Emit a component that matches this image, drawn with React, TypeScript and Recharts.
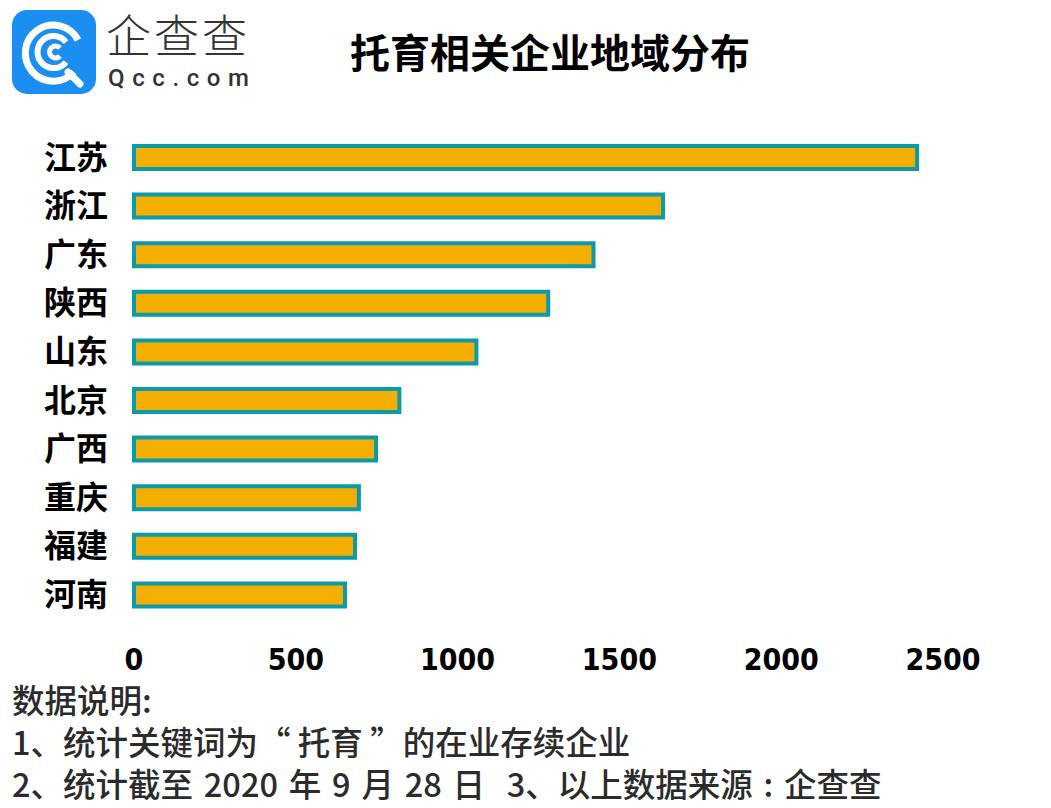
import { BarChart, Bar, XAxis, YAxis } from "recharts";

const provinces = ["江苏", "浙江", "广东", "陕西", "山东", "北京", "广西", "重庆", "福建", "河南"];
const counts = [2420, 1635, 1420, 1280, 1058, 820, 748, 695, 683, 652];
const xTicks = [0, 500, 1000, 1500, 2000, 2500];

const title = "托育相关企业地域分布";
const notes = [
  "数据说明:",
  "1、统计关键词为“ 托育 ”的在业存续企业",
  "2、统计截至 2020 年 9 月 28 日  3、以上数据来源 : 企查查",
];

const data = provinces.map((name, i) => ({ name, count: counts[i] }));

const CJK = '"Noto Sans CJK SC", "Noto Sans", sans-serif';

function Logo() {
  return (
    <div style={{ position: "absolute", left: 12, top: 10, width: 250, height: 84 }}>
      <svg width={84} height={84} viewBox="0 0 84 84">
        <rect x={0} y={0} width={84} height={84} rx={15} fill="#1a8ef2" />
        <path d="M 66 30 A 28 28 0 1 0 62 62" fill="none" stroke="#fff" strokeWidth={7} />
        <path d="M 56 62 L 68 74" stroke="#fff" strokeWidth={7} strokeLinecap="round" />
        <path d="M 54 32 A 16 16 0 1 0 54 52" fill="none" stroke="#fff" strokeWidth={6} />
        <path d="M 48 38 A 6 6 0 1 0 48 46" fill="none" stroke="#fff" strokeWidth={5} />
      </svg>
      <div
        style={{
          position: "absolute",
          left: 94,
          top: 0,
          color: "#333",
          fontFamily: CJK,
          fontSize: 45,
          lineHeight: "48px",
          fontWeight: 300,
          letterSpacing: 3,
        }}
      >
        企查查
      </div>
      <div
        style={{
          position: "absolute",
          left: 96,
          top: 54,
          color: "#333",
          fontSize: 24,
          lineHeight: "28px",
          letterSpacing: 7.6,
          fontFamily: "Roboto, sans-serif",
          fontWeight: 500,
        }}
      >
        Qcc.com
      </div>
    </div>
  );
}

export default function App() {
  return (
    <div style={{ position: "relative", width: 1051, height: 808, margin: -8, background: "#fff", overflow: "hidden" }}>
      <Logo />
      <div
        style={{
          position: "absolute",
          left: 0,
          width: 1100,
          top: 26,
          textAlign: "center",
          fontFamily: CJK,
          fontWeight: 700,
          fontSize: 40,
          lineHeight: "50px",
          color: "#000",
        }}
      >
        {title}
      </div>
      <div style={{ position: "absolute", left: 0, top: 0 }}>
        <BarChart
          width={1051}
          height={700}
          data={data}
          layout="vertical"
          margin={{ top: 133, right: 108, left: 14, bottom: 41 }}
          barCategoryGap={0}
        >
          <XAxis
            type="number"
            domain={[0, 2500]}
            ticks={xTicks}
            axisLine={false}
            tickLine={false}
            tickSize={0}
            tickMargin={30}
            height={40}
            tick={{ fill: "#000", fontSize: 30, fontWeight: 700, fontFamily: '"DejaVu Sans Condensed", "DejaVu Sans", sans-serif' }}
          />
          <YAxis
            type="category"
            dataKey="name"
            width={120}
            interval={0}
            axisLine={false}
            tickLine={false}
            tickSize={0}
            tickMargin={26}
            tick={{ fill: "#000", fontSize: 32, fontWeight: 700, fontFamily: CJK }}
          />
          <Bar dataKey="count" barSize={23} fill="#f3ae00" stroke="#0a9aa8" strokeWidth={4} isAnimationActive={false} />
        </BarChart>
      </div>
      <div
        style={{
          position: "absolute",
          left: 12,
          top: 678,
          fontFamily: CJK,
          fontSize: 32.5,
          fontWeight: 500,
          lineHeight: "42px",
          color: "#2b2b2b",
          whiteSpace: "pre",
        }}
      >
        {notes.map((n, i) => (
          <div key={n} style={{ wordSpacing: i === 2 ? 3.5 : 0 }}>
            {n}
          </div>
        ))}
      </div>
    </div>
  );
}
